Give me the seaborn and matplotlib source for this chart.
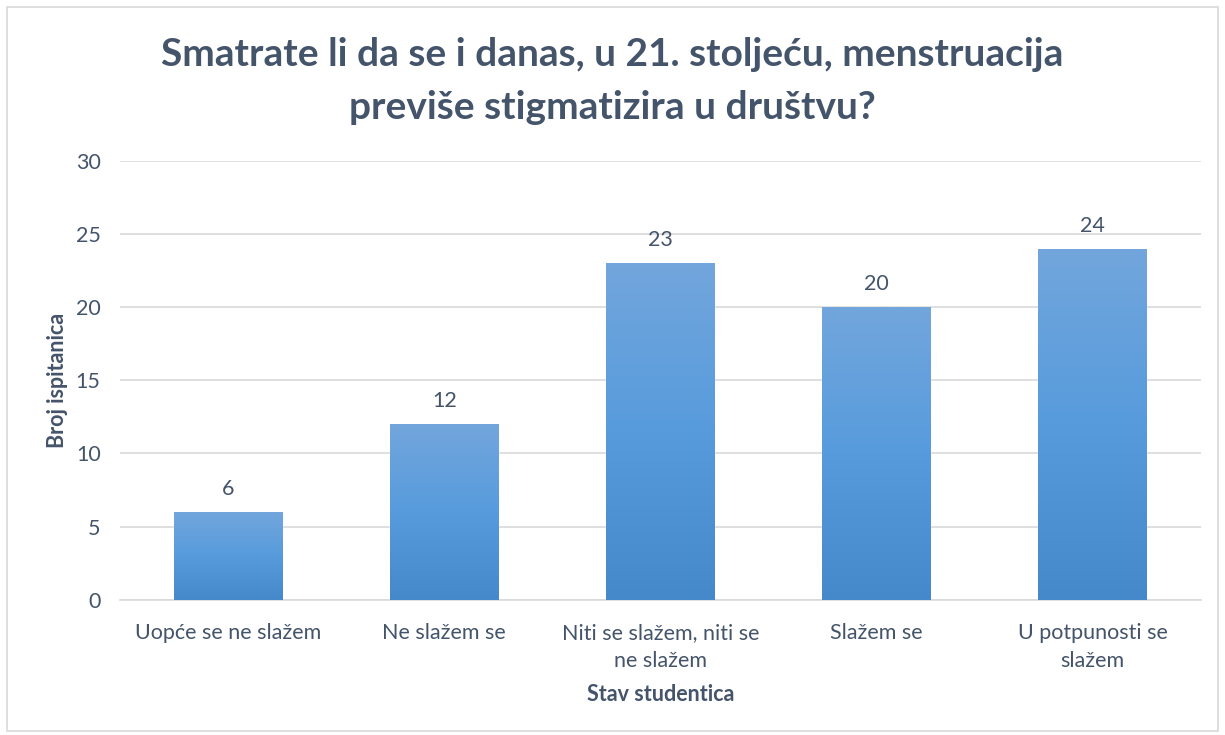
import numpy as np
import pandas as pd
import matplotlib
matplotlib.use('Agg')
import matplotlib.pyplot as plt
import seaborn as sns
from matplotlib.colors import LinearSegmentedColormap
from matplotlib.patches import Rectangle

# Chart data
categories = ['Uopće se ne slažem', 'Ne slažem se', 'Niti se slažem, niti se\nne slažem',
              'Slažem se', 'U potpunosti se\nslažem']
counts = [6, 12, 23, 20, 24]
yticks = [0, 5, 10, 15, 20, 25, 30]

title = 'Smatrate li da se i danas, u 21. stoljeću, menstruacija\nprevište stigmatizira u društvu?'.replace('prevište', 'previše')
text_col = '#44546A'
fs = 15.5

sns.set_theme(style='white')
plt.rcParams['font.family'] = ['Lato', 'DejaVu Sans']

df = pd.DataFrame({'stav': categories, 'broj': counts})

fig = plt.figure(figsize=(12.25, 7.35), dpi=100)
ax = fig.add_axes([0.098, 0.184, 0.882, 0.597])

sns.barplot(data=df, x='stav', y='broj', color='#5B9BD5', width=0.5, ax=ax, zorder=2)

# Vertical gradient fill on each bar
cmap = LinearSegmentedColormap.from_list('bar', ['#4689CB', '#579BDD', '#72A6DC'])
grad = np.linspace(0, 1, 256).reshape(-1, 1)
for p in ax.patches:
    x0, w, h = p.get_x(), p.get_width(), p.get_height()
    im = ax.imshow(grad, cmap=cmap, origin='lower', aspect='auto',
                   extent=[x0, x0 + w, 0, h], zorder=3)
    im.set_clip_path(p)
    ax.text(x0 + w / 2, h + 0.9, f'{h:g}', ha='center', va='bottom',
            fontsize=fs, color=text_col)

ax.set_xlim(-0.5, len(categories) - 0.5)
ax.set_ylim(0, 30)
ax.set_yticks(yticks)
ax.yaxis.grid(True, color='#D9D9D9', linewidth=1.2, zorder=0)
ax.set_axisbelow(True)
for s in ['top', 'right', 'left']:
    ax.spines[s].set_visible(False)
ax.spines['bottom'].set_color('#D9D9D9')
ax.spines['bottom'].set_linewidth(1.2)
ax.tick_params(axis='both', length=0, labelsize=fs, colors=text_col)
ax.tick_params(axis='y', pad=14)
ax.tick_params(axis='x', pad=17)
for t in ax.get_xticklabels():
    t.set_linespacing(1.5)

ax.set_xlabel('Stav studentica', fontsize=fs, fontweight='bold', color=text_col, va='center')
ax.set_ylabel('Broj ispitanica', fontsize=fs, fontweight='bold', color=text_col, va='center')
ax.xaxis.set_label_coords(0.5, -0.216)
ax.yaxis.set_label_coords(-0.058, 0.5)

fig.text(0.5, 0.89, title, ha='center', va='center', fontsize=28, fontweight='bold',
         color=text_col, linespacing=1.6)

# Light frame around the chart
fig.patches.append(Rectangle((0.006, 0.005), 0.988, 0.985, transform=fig.transFigure,
                             fill=False, edgecolor='#D9D9D9', linewidth=1.2))

fig.savefig('out.png', dpi=100)
